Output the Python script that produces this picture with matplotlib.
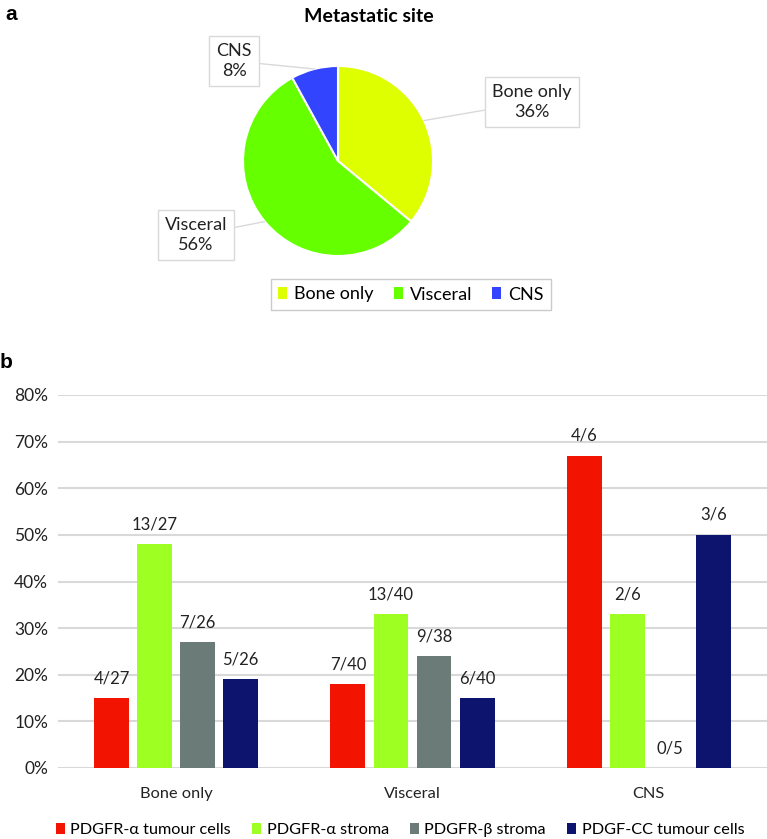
import matplotlib
matplotlib.use("Agg")
import matplotlib.pyplot as plt
from matplotlib.patches import Patch
import numpy as np

plt.rcParams['font.family'] = ['Lato', 'DejaVu Sans']

# ---- data: panel a ----
site_labels = ["Bone only", "Visceral", "CNS"]
site_pct = [36, 56, 8]
site_colors = ["#DDFF00", "#66FF00", "#3344FF"]

# ---- data: panel b ----
categories = ["Bone only", "Visceral", "CNS"]
series_names = ["PDGFR-α tumour cells", "PDGFR-α stroma", "PDGFR-β stroma", "PDGF-CC tumour cells"]
series_colors = ["#F21400", "#9EFF22", "#6B7B78", "#0C146E"]
pdgfra_tumour = [15, 18, 67]
pdgfra_stroma = [48, 33, 33]
pdgfrb_stroma = [27, 24, 0]
pdgfcc_tumour = [19, 15, 50]
lbl_pdgfra_tumour = ["4/27", "7/40", "4/6"]
lbl_pdgfra_stroma = ["13/27", "13/40", "2/6"]
lbl_pdgfrb_stroma = ["7/26", "9/38", "0/5"]
lbl_pdgfcc_tumour = ["5/26", "6/40", "3/6"]
yticks = [0, 10, 20, 30, 40, 50, 60, 70, 80]

W, H = 767, 839
fig = plt.figure(figsize=(W / 100, H / 100), dpi=100)

def fx(px):
    return px / W

def fy(py):
    return 1 - py / H

# ---------- panel a ----------
fig.text(fx(5), fy(14), "a", fontsize=15, fontweight="bold", va="center", ha="left",
         family=["Liberation Sans"])
fig.text(fx(369), fy(17), "Metastatic site", fontsize=14, fontweight="bold", ha="center", va="center")

cx, cy, r = 338, 161, 95
axp = fig.add_axes([fx(cx - r), fy(cy + r), (2 * r) / W, (2 * r) / H])
wedges, _ = axp.pie(site_pct, colors=site_colors, startangle=90, counterclock=False,
                    wedgeprops=dict(edgecolor="white", linewidth=1.5), radius=1)
axp.set_xlim(-1, 1)
axp.set_ylim(-1, 1)
axp.set_aspect("equal")
axp.axis("off")

label_pos = {"Bone only": (532, 102), "Visceral": (196, 235), "CNS": (234, 61)}
for w, lab, pct in zip(wedges, site_labels, site_pct):
    th = np.deg2rad((w.theta1 + w.theta2) / 2)
    xy = (np.cos(th), np.sin(th))
    tx, ty = label_pos[lab]
    axp.annotate(f"{lab}\n{pct}%", xy=xy, xycoords="data",
                 xytext=(fx(tx), fy(ty)), textcoords="figure fraction",
                 ha="center", va="center", fontsize=13, color="#222222", linespacing=1.35,
                 bbox=dict(boxstyle="square,pad=0.4", fc="white", ec="#D9D9D9", lw=1),
                 arrowprops=dict(arrowstyle="-", color="#D9D9D9", lw=1, shrinkA=0, shrinkB=0),
                 annotation_clip=False)

handles_a = [Patch(facecolor=c, edgecolor="none", label=l) for c, l in zip(site_colors, site_labels)]
leg_a = fig.legend(handles=handles_a, loc="center", bbox_to_anchor=(fx(411), fy(294.5)),
                   ncol=3, fontsize=13, frameon=True, fancybox=False, edgecolor="#BFBFBF",
                   handlelength=0.5, handleheight=0.65, handletextpad=0.4, columnspacing=1.1,
                   borderpad=0.4)
leg_a.get_frame().set_linewidth(1)

# ---------- panel b ----------
fig.text(fx(0), fy(363), "b", fontsize=15, fontweight="bold", va="center", ha="left",
         family=["Liberation Sans"])

axb = fig.add_axes([fx(58), fy(768), (767 - 58) / W, (768 - 395) / H])
series = [pdgfra_tumour, pdgfra_stroma, pdgfrb_stroma, pdgfcc_tumour]
labels = [lbl_pdgfra_tumour, lbl_pdgfra_stroma, lbl_pdgfrb_stroma, lbl_pdgfcc_tumour]
x = np.arange(len(categories))
bw = 0.148
step = 0.182
for i, (vals, labs, col) in enumerate(zip(series, labels, series_colors)):
    pos = x + (i - 1.5) * step
    axb.bar(pos, vals, width=bw, color=col, zorder=3)
    for px_, v, t in zip(pos, vals, labs):
        axb.annotate(t, xy=(px_, v), xytext=(0, 14.4), textcoords="offset points",
                     ha="center", va="center", fontsize=12, color="#222222")

axb.set_xlim(-0.5, 2.5)
axb.set_ylim(0, 80)
axb.set_yticks(yticks)
axb.set_yticklabels([f"{t}%" for t in yticks])
axb.set_xticks(x)
axb.set_xticklabels(categories)
axb.tick_params(axis="y", length=0, pad=7, labelsize=12.5, labelcolor="#222222")
axb.tick_params(axis="x", length=0, pad=14, labelsize=11.8, labelcolor="#222222")
for s in axb.spines.values():
    s.set_visible(False)
axb.grid(axis="y", color="#D9D9D9", lw=1.5, zorder=0)
axb.set_axisbelow(True)

handles_b = [Patch(facecolor=c, edgecolor="none", label=l) for c, l in zip(series_colors, series_names)]
fig.legend(handles=handles_b, loc="center", bbox_to_anchor=(fx(400), fy(830)), ncol=4,
           fontsize=11.7, frameon=False, handlelength=0.55, handleheight=0.7,
           handletextpad=0.35, columnspacing=1.3)

fig.savefig("out.png", dpi=100)
